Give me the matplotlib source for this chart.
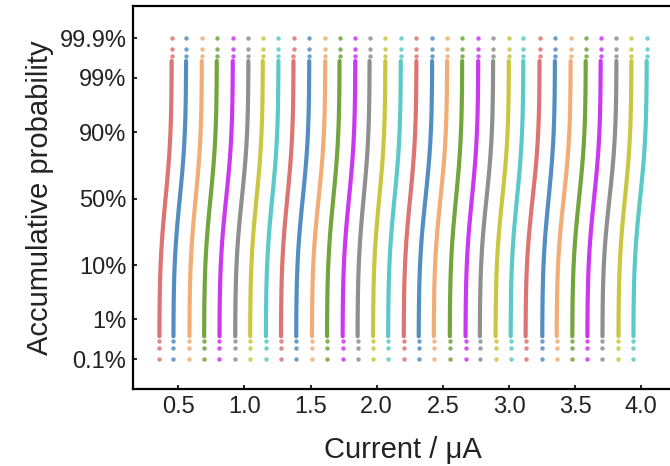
import numpy as np
import matplotlib
matplotlib.use('Agg')
import matplotlib.pyplot as plt
from statistics import NormalDist

plt.rcParams['font.family'] = ['Liberation Sans', 'DejaVu Sans']

# current (uA) of each curve at the 0.1% end and at the 99.9% end
x_low = [0.357, 0.463, 0.584, 0.695, 0.811, 0.930, 1.043, 1.162,
         1.276, 1.391, 1.510, 1.624, 1.742, 1.855, 1.972, 2.086,
         2.204, 2.317, 2.431, 2.552, 2.671, 2.779, 2.898, 3.012,
         3.125, 3.251, 3.360, 3.478, 3.592, 3.706, 3.827, 3.940]
x_high = [0.450, 0.559, 0.678, 0.791, 0.912, 1.030, 1.139, 1.257,
          1.371, 1.490, 1.611, 1.719, 1.838, 1.946, 2.065, 2.182,
          2.300, 2.419, 2.532, 2.646, 2.767, 2.880, 2.999, 3.108,
          3.231, 3.347, 3.466, 3.580, 3.693, 3.812, 3.925, 4.041]

# probability levels of the drawn points; the spread inside a curve looks uniform
levels = [0.001, 0.002, 0.003, 0.004, 0.005, 0.007, 0.01, 0.015, 0.02, 0.03,
          0.05, 0.07, 0.1, 0.15, 0.2, 0.25, 0.3, 0.4, 0.5, 0.6, 0.7, 0.75,
          0.8, 0.85, 0.9, 0.93, 0.95, 0.97, 0.98, 0.985, 0.99, 0.993, 0.995,
          0.996, 0.997, 0.998, 0.999]

ytick_vals = [0.001, 0.01, 0.1, 0.5, 0.9, 0.99, 0.999]
ytick_labels = ['0.1%', '1%', '10%', '50%', '90%', '99%', '99.9%']
xtick_vals = [0.5, 1.0, 1.5, 2.0, 2.5, 3.0, 3.5, 4.0]

colors = ['#d9605f', '#3b7fba', '#f0a262', '#5e9a22',
          '#c41cf0', '#808080', '#c2c024', '#44c2c0']

nd = NormalDist()
_ppf = np.vectorize(nd.inv_cdf, otypes=[float])
_cdf = np.vectorize(nd.cdf, otypes=[float])


def fwd(p):
    p = np.clip(np.asarray(p, dtype=float), 1e-12, 1 - 1e-12)
    return _ppf(p)


def inv(z):
    return _cdf(np.asarray(z, dtype=float))


fig = plt.figure(figsize=(6.7, 4.66), dpi=100)
ax = fig.add_axes([0.198, 0.1646, 0.806, 0.8232])
ax.set_yscale('function', functions=(fwd, inv))

lv = np.array(levels)
for i in range(len(x_low)):
    c = colors[i % len(colors)]
    xs = x_low[i] + (x_high[i] - x_low[i]) * lv
    # dense middle part reads as a solid thick line
    ax.plot(xs[3:-3], lv[3:-3], '-', color=c, lw=3.0, alpha=0.88,
            solid_capstyle='round')
    # sparse points at both ends
    ends = np.r_[0:3, len(lv) - 3:len(lv)]
    ax.plot(xs[ends], lv[ends], 'o', color=c, ms=3.2, mew=0, alpha=0.75)

ax.set_xlim(0.155, 4.237)
ax.set_ylim(nd.cdf(-3.674), nd.cdf(3.718))
ax.set_yticks(ytick_vals)
ax.set_yticklabels(ytick_labels)
ax.yaxis.set_minor_locator(matplotlib.ticker.NullLocator())
ax.set_xticks(xtick_vals)
ax.set_xticklabels(['0.5', '1.0', '1.5', '2.0', '2.5', '3.0', '3.5', '4.0'])

ax.tick_params(direction='in', length=3, width=1.2, labelsize=17,
               labelcolor='#222222', pad=4.5)
for s in ax.spines.values():
    s.set_linewidth(1.6)

ax.set_xlabel('Current / \u03bcA', fontsize=21, color='#222222')
ax.set_ylabel('Accumulative probability', fontsize=21, color='#222222')
ax.xaxis.set_label_coords(0.4996, -0.123)
ax.yaxis.set_label_coords(-0.146, 0.5)

fig.savefig('out.png', dpi=100)
